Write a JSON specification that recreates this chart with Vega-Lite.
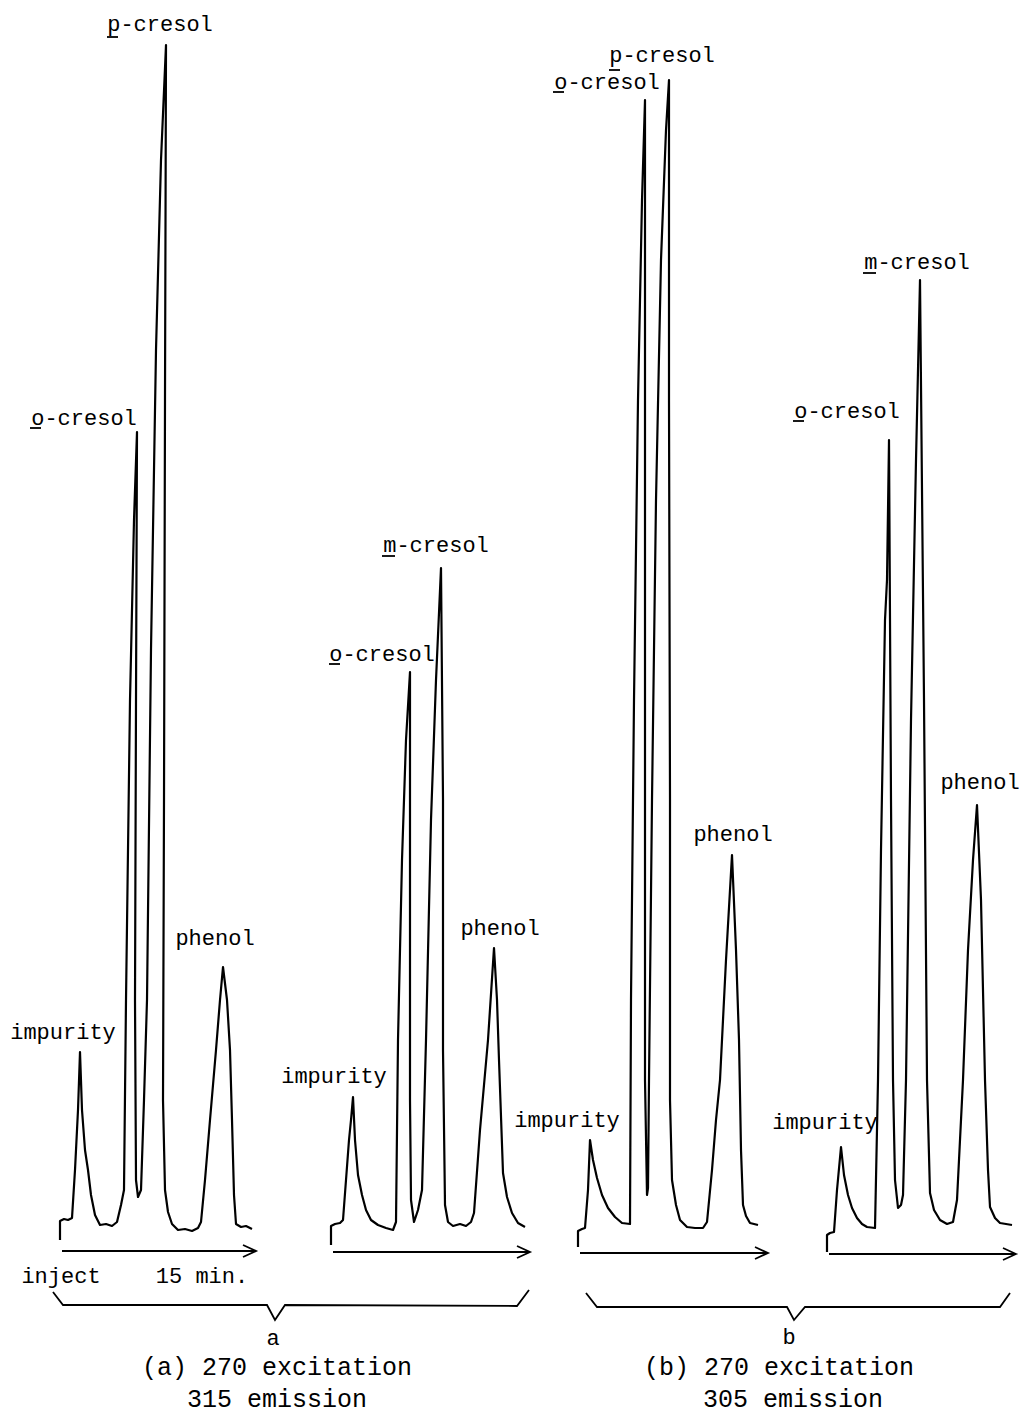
{
  "$schema": "https://vega.github.io/schema/vega-lite/v6.json",
  "width": 1024,
  "height": 1414,
  "autosize": {"type": "fit", "contains": "padding"},
  "padding": 0,
  "background": "white",
  "config": {"view": {"stroke": null}},
  "datasets": {
    "traces": [
      {"s":"a1","o":1,"x":60,"y":1240},{"s":"a1","o":2,"x":60,"y":1221},{"s":"a1","o":3,"x":64,"y":1219},{"s":"a1","o":4,"x":68,"y":1220},{"s":"a1","o":5,"x":72,"y":1218},{"s":"a1","o":6,"x":75,"y":1170},{"s":"a1","o":7,"x":78,"y":1110},{"s":"a1","o":8,"x":80,"y":1052},{"s":"a1","o":9,"x":82,"y":1110},{"s":"a1","o":10,"x":85,"y":1150},{"s":"a1","o":11,"x":88,"y":1170},{"s":"a1","o":12,"x":91,"y":1195},{"s":"a1","o":13,"x":95,"y":1215},{"s":"a1","o":14,"x":100,"y":1225},{"s":"a1","o":15,"x":106,"y":1224},{"s":"a1","o":16,"x":112,"y":1226},{"s":"a1","o":17,"x":117,"y":1222},{"s":"a1","o":18,"x":121,"y":1205},{"s":"a1","o":19,"x":124,"y":1190},{"s":"a1","o":20,"x":126,"y":1000},{"s":"a1","o":21,"x":130,"y":700},{"s":"a1","o":22,"x":134,"y":520},{"s":"a1","o":23,"x":137,"y":432},{"s":"a1","o":24,"x":136,"y":700},{"s":"a1","o":25,"x":135,"y":1000},{"s":"a1","o":26,"x":136,"y":1180},{"s":"a1","o":27,"x":138,"y":1197},{"s":"a1","o":28,"x":141,"y":1190},{"s":"a1","o":29,"x":144,"y":1100},{"s":"a1","o":30,"x":147,"y":1000},{"s":"a1","o":31,"x":151,"y":650},{"s":"a1","o":32,"x":156,"y":350},{"s":"a1","o":33,"x":161,"y":160},{"s":"a1","o":34,"x":166,"y":45},{"s":"a1","o":35,"x":165,"y":400},{"s":"a1","o":36,"x":164,"y":800},{"s":"a1","o":37,"x":163,"y":1100},{"s":"a1","o":38,"x":165,"y":1190},{"s":"a1","o":39,"x":168,"y":1212},{"s":"a1","o":40,"x":172,"y":1224},{"s":"a1","o":41,"x":178,"y":1230},{"s":"a1","o":42,"x":185,"y":1229},{"s":"a1","o":43,"x":192,"y":1231},{"s":"a1","o":44,"x":198,"y":1228},{"s":"a1","o":45,"x":201,"y":1222},{"s":"a1","o":46,"x":205,"y":1180},{"s":"a1","o":47,"x":210,"y":1120},{"s":"a1","o":48,"x":216,"y":1050},{"s":"a1","o":49,"x":220,"y":1000},{"s":"a1","o":50,"x":223,"y":967},{"s":"a1","o":51,"x":227,"y":1000},{"s":"a1","o":52,"x":230,"y":1050},{"s":"a1","o":53,"x":232,"y":1120},{"s":"a1","o":54,"x":234,"y":1195},{"s":"a1","o":55,"x":236,"y":1224},{"s":"a1","o":56,"x":241,"y":1227},{"s":"a1","o":57,"x":246,"y":1226},{"s":"a1","o":58,"x":252,"y":1229},

      {"s":"a2","o":1,"x":331,"y":1245},{"s":"a2","o":2,"x":331,"y":1226},{"s":"a2","o":3,"x":335,"y":1224},{"s":"a2","o":4,"x":340,"y":1223},{"s":"a2","o":5,"x":343,"y":1220},{"s":"a2","o":6,"x":346,"y":1180},{"s":"a2","o":7,"x":349,"y":1140},{"s":"a2","o":8,"x":351,"y":1120},{"s":"a2","o":9,"x":353,"y":1097},{"s":"a2","o":10,"x":355,"y":1140},{"s":"a2","o":11,"x":358,"y":1175},{"s":"a2","o":12,"x":362,"y":1195},{"s":"a2","o":13,"x":366,"y":1210},{"s":"a2","o":14,"x":371,"y":1220},{"s":"a2","o":15,"x":378,"y":1225},{"s":"a2","o":16,"x":386,"y":1228},{"s":"a2","o":17,"x":393,"y":1230},{"s":"a2","o":18,"x":396,"y":1222},{"s":"a2","o":19,"x":398,"y":1040},{"s":"a2","o":20,"x":402,"y":860},{"s":"a2","o":21,"x":406,"y":740},{"s":"a2","o":22,"x":410,"y":672},{"s":"a2","o":23,"x":410,"y":900},{"s":"a2","o":24,"x":410,"y":1100},{"s":"a2","o":25,"x":411,"y":1200},{"s":"a2","o":26,"x":414,"y":1222},{"s":"a2","o":27,"x":418,"y":1210},{"s":"a2","o":28,"x":422,"y":1190},{"s":"a2","o":29,"x":426,"y":1040},{"s":"a2","o":30,"x":431,"y":820},{"s":"a2","o":31,"x":436,"y":680},{"s":"a2","o":32,"x":441,"y":568},{"s":"a2","o":33,"x":443,"y":800},{"s":"a2","o":34,"x":443,"y":1050},{"s":"a2","o":35,"x":445,"y":1205},{"s":"a2","o":36,"x":448,"y":1222},{"s":"a2","o":37,"x":453,"y":1226},{"s":"a2","o":38,"x":460,"y":1224},{"s":"a2","o":39,"x":466,"y":1226},{"s":"a2","o":40,"x":471,"y":1222},{"s":"a2","o":41,"x":474,"y":1213},{"s":"a2","o":42,"x":480,"y":1130},{"s":"a2","o":43,"x":488,"y":1040},{"s":"a2","o":44,"x":494,"y":948},{"s":"a2","o":45,"x":497,"y":1000},{"s":"a2","o":46,"x":499,"y":1060},{"s":"a2","o":47,"x":503,"y":1173},{"s":"a2","o":48,"x":507,"y":1197},{"s":"a2","o":49,"x":512,"y":1213},{"s":"a2","o":50,"x":518,"y":1223},{"s":"a2","o":51,"x":525,"y":1227},

      {"s":"b1","o":1,"x":578,"y":1247},{"s":"b1","o":2,"x":578,"y":1231},{"s":"b1","o":3,"x":582,"y":1229},{"s":"b1","o":4,"x":585,"y":1228},{"s":"b1","o":5,"x":588,"y":1190},{"s":"b1","o":6,"x":590,"y":1140},{"s":"b1","o":7,"x":593,"y":1160},{"s":"b1","o":8,"x":597,"y":1178},{"s":"b1","o":9,"x":602,"y":1195},{"s":"b1","o":10,"x":608,"y":1208},{"s":"b1","o":11,"x":615,"y":1217},{"s":"b1","o":12,"x":622,"y":1223},{"s":"b1","o":13,"x":630,"y":1224},{"s":"b1","o":14,"x":631,"y":1000},{"s":"b1","o":15,"x":634,"y":700},{"s":"b1","o":16,"x":638,"y":400},{"s":"b1","o":17,"x":642,"y":200},{"s":"b1","o":18,"x":645,"y":100},{"s":"b1","o":19,"x":645,"y":400},{"s":"b1","o":20,"x":645,"y":800},{"s":"b1","o":21,"x":645,"y":1080},{"s":"b1","o":22,"x":647,"y":1195},{"s":"b1","o":23,"x":648,"y":1188},{"s":"b1","o":24,"x":649,"y":1080},{"s":"b1","o":25,"x":652,"y":800},{"s":"b1","o":26,"x":656,"y":500},{"s":"b1","o":27,"x":661,"y":260},{"s":"b1","o":28,"x":666,"y":130},{"s":"b1","o":29,"x":669,"y":80},{"s":"b1","o":30,"x":669,"y":400},{"s":"b1","o":31,"x":670,"y":800},{"s":"b1","o":32,"x":670,"y":1100},{"s":"b1","o":33,"x":672,"y":1180},{"s":"b1","o":34,"x":676,"y":1205},{"s":"b1","o":35,"x":680,"y":1220},{"s":"b1","o":36,"x":687,"y":1227},{"s":"b1","o":37,"x":695,"y":1228},{"s":"b1","o":38,"x":703,"y":1228},{"s":"b1","o":39,"x":707,"y":1222},{"s":"b1","o":40,"x":712,"y":1170},{"s":"b1","o":41,"x":716,"y":1120},{"s":"b1","o":42,"x":720,"y":1080},{"s":"b1","o":43,"x":726,"y":960},{"s":"b1","o":44,"x":732,"y":855},{"s":"b1","o":45,"x":736,"y":950},{"s":"b1","o":46,"x":739,"y":1040},{"s":"b1","o":47,"x":741,"y":1150},{"s":"b1","o":48,"x":743,"y":1205},{"s":"b1","o":49,"x":746,"y":1216},{"s":"b1","o":50,"x":750,"y":1223},{"s":"b1","o":51,"x":758,"y":1225},

      {"s":"b2","o":1,"x":827,"y":1252},{"s":"b2","o":2,"x":827,"y":1235},{"s":"b2","o":3,"x":830,"y":1233},{"s":"b2","o":4,"x":834,"y":1232},{"s":"b2","o":5,"x":837,"y":1190},{"s":"b2","o":6,"x":841,"y":1147},{"s":"b2","o":7,"x":844,"y":1175},{"s":"b2","o":8,"x":848,"y":1195},{"s":"b2","o":9,"x":852,"y":1208},{"s":"b2","o":10,"x":857,"y":1218},{"s":"b2","o":11,"x":862,"y":1224},{"s":"b2","o":12,"x":867,"y":1227},{"s":"b2","o":13,"x":875,"y":1228},{"s":"b2","o":14,"x":878,"y":1080},{"s":"b2","o":15,"x":881,"y":850},{"s":"b2","o":16,"x":885,"y":620},{"s":"b2","o":17,"x":887,"y":580},{"s":"b2","o":18,"x":889,"y":440},{"s":"b2","o":19,"x":891,"y":800},{"s":"b2","o":20,"x":893,"y":1080},{"s":"b2","o":21,"x":895,"y":1180},{"s":"b2","o":22,"x":898,"y":1208},{"s":"b2","o":23,"x":901,"y":1205},{"s":"b2","o":24,"x":903,"y":1195},{"s":"b2","o":25,"x":906,"y":1080},{"s":"b2","o":26,"x":911,"y":720},{"s":"b2","o":27,"x":916,"y":460},{"s":"b2","o":28,"x":920,"y":280},{"s":"b2","o":29,"x":924,"y":700},{"s":"b2","o":30,"x":927,"y":1080},{"s":"b2","o":31,"x":930,"y":1193},{"s":"b2","o":32,"x":934,"y":1210},{"s":"b2","o":33,"x":940,"y":1220},{"s":"b2","o":34,"x":947,"y":1224},{"s":"b2","o":35,"x":953,"y":1222},{"s":"b2","o":36,"x":957,"y":1200},{"s":"b2","o":37,"x":963,"y":1080},{"s":"b2","o":38,"x":968,"y":950},{"s":"b2","o":39,"x":973,"y":860},{"s":"b2","o":40,"x":977,"y":805},{"s":"b2","o":41,"x":981,"y":900},{"s":"b2","o":42,"x":985,"y":1080},{"s":"b2","o":43,"x":988,"y":1170},{"s":"b2","o":44,"x":990,"y":1207},{"s":"b2","o":45,"x":995,"y":1218},{"s":"b2","o":46,"x":1000,"y":1223},{"s":"b2","o":47,"x":1012,"y":1225}
    ],
    "guides": [
      {"s":"arA1","o":1,"x":62,"y":1251},{"s":"arA1","o":2,"x":256,"y":1251},
      {"s":"hdA1","o":1,"x":243,"y":1245},{"s":"hdA1","o":2,"x":256,"y":1251},{"s":"hdA1","o":3,"x":243,"y":1257},
      {"s":"arA2","o":1,"x":333,"y":1252},{"s":"arA2","o":2,"x":530,"y":1252},
      {"s":"hdA2","o":1,"x":517,"y":1246},{"s":"hdA2","o":2,"x":530,"y":1252},{"s":"hdA2","o":3,"x":517,"y":1258},
      {"s":"arB1","o":1,"x":580,"y":1253},{"s":"arB1","o":2,"x":768,"y":1253},
      {"s":"hdB1","o":1,"x":755,"y":1247},{"s":"hdB1","o":2,"x":768,"y":1253},{"s":"hdB1","o":3,"x":755,"y":1259},
      {"s":"arB2","o":1,"x":829,"y":1254},{"s":"arB2","o":2,"x":1016,"y":1254},
      {"s":"hdB2","o":1,"x":1003,"y":1248},{"s":"hdB2","o":2,"x":1016,"y":1254},{"s":"hdB2","o":3,"x":1003,"y":1260},
      {"s":"brA","o":1,"x":53,"y":1292},{"s":"brA","o":2,"x":63,"y":1305},{"s":"brA","o":3,"x":267,"y":1305},{"s":"brA","o":4,"x":275,"y":1320},{"s":"brA","o":5,"x":285,"y":1305},{"s":"brA","o":6,"x":517,"y":1306},{"s":"brA","o":7,"x":529,"y":1290},
      {"s":"brB","o":1,"x":586,"y":1293},{"s":"brB","o":2,"x":597,"y":1307},{"s":"brB","o":3,"x":787,"y":1307},{"s":"brB","o":4,"x":794,"y":1320},{"s":"brB","o":5,"x":805,"y":1307},{"s":"brB","o":6,"x":1000,"y":1307},{"s":"brB","o":7,"x":1010,"y":1293},
      {"s":"u1","o":1,"x":107,"y":37},{"s":"u1","o":2,"x":118,"y":37},
      {"s":"u2","o":1,"x":30,"y":428},{"s":"u2","o":2,"x":41,"y":428},
      {"s":"u3","o":1,"x":329,"y":664},{"s":"u3","o":2,"x":340,"y":664},
      {"s":"u4","o":1,"x":382,"y":556},{"s":"u4","o":2,"x":395,"y":556},
      {"s":"u5","o":1,"x":609,"y":70},{"s":"u5","o":2,"x":620,"y":70},
      {"s":"u6","o":1,"x":553,"y":92},{"s":"u6","o":2,"x":564,"y":92},
      {"s":"u7","o":1,"x":863,"y":273},{"s":"u7","o":2,"x":876,"y":273},
      {"s":"u8","o":1,"x":793,"y":421},{"s":"u8","o":2,"x":804,"y":421}
    ],
    "labels": [
      {"t":"p-cresol","x":160,"y":24,"k":"peak"},
      {"t":"o-cresol","x":84,"y":418,"k":"peak"},
      {"t":"impurity","x":63,"y":1032,"k":"peak"},
      {"t":"phenol","x":215,"y":938,"k":"peak"},
      {"t":"impurity","x":334,"y":1076,"k":"peak"},
      {"t":"o-cresol","x":382,"y":654,"k":"peak"},
      {"t":"m-cresol","x":436,"y":545,"k":"peak"},
      {"t":"phenol","x":500,"y":928,"k":"peak"},
      {"t":"p-cresol","x":662,"y":55,"k":"peak"},
      {"t":"o-cresol","x":607,"y":82,"k":"peak"},
      {"t":"phenol","x":733,"y":834,"k":"peak"},
      {"t":"impurity","x":567,"y":1120,"k":"peak"},
      {"t":"m-cresol","x":917,"y":262,"k":"peak"},
      {"t":"o-cresol","x":847,"y":411,"k":"peak"},
      {"t":"phenol","x":980,"y":782,"k":"peak"},
      {"t":"impurity","x":825,"y":1122,"k":"peak"},
      {"t":"inject","x":61,"y":1276,"k":"peak"},
      {"t":"15 min.","x":202,"y":1276,"k":"peak"},
      {"t":"a","x":273,"y":1338,"k":"peak"},
      {"t":"b","x":789,"y":1337,"k":"peak"},
      {"t":"(a) 270 excitation","x":277,"y":1367,"k":"cap"},
      {"t":"315 emission","x":277,"y":1399,"k":"cap"},
      {"t":"(b) 270 excitation","x":779,"y":1367,"k":"cap"},
      {"t":"305 emission","x":793,"y":1399,"k":"cap"}
    ]
  },
  "layer": [
    {
      "data": {"name": "traces"},
      "mark": {"type": "line", "color": "black", "strokeWidth": 2.2, "strokeJoin": "round"},
      "encoding": {
        "x": {"field": "x", "type": "quantitative", "scale": {"domain": [0, 1024]}, "axis": null},
        "y": {"field": "y", "type": "quantitative", "scale": {"domain": [0, 1414], "reverse": true}, "axis": null},
        "detail": {"field": "s"},
        "order": {"field": "o", "type": "quantitative"}
      }
    },
    {
      "data": {"name": "guides"},
      "mark": {"type": "line", "color": "black", "strokeWidth": 1.8},
      "encoding": {
        "x": {"field": "x", "type": "quantitative", "scale": {"domain": [0, 1024]}, "axis": null},
        "y": {"field": "y", "type": "quantitative", "scale": {"domain": [0, 1414], "reverse": true}, "axis": null},
        "detail": {"field": "s"},
        "order": {"field": "o", "type": "quantitative"}
      }
    },
    {
      "data": {"name": "labels"},
      "transform": [{"filter": "datum.k == 'peak'"}],
      "mark": {"type": "text", "font": "Liberation Mono", "fontSize": 22, "color": "black", "baseline": "middle", "align": "center"},
      "encoding": {
        "x": {"field": "x", "type": "quantitative", "scale": {"domain": [0, 1024]}, "axis": null},
        "y": {"field": "y", "type": "quantitative", "scale": {"domain": [0, 1414], "reverse": true}, "axis": null},
        "text": {"field": "t"}
      }
    },
    {
      "data": {"name": "labels"},
      "transform": [{"filter": "datum.k == 'cap'"}],
      "mark": {"type": "text", "font": "Liberation Mono", "fontSize": 25, "color": "black", "baseline": "middle", "align": "center"},
      "encoding": {
        "x": {"field": "x", "type": "quantitative", "scale": {"domain": [0, 1024]}, "axis": null},
        "y": {"field": "y", "type": "quantitative", "scale": {"domain": [0, 1414], "reverse": true}, "axis": null},
        "text": {"field": "t"}
      }
    }
  ]
}
